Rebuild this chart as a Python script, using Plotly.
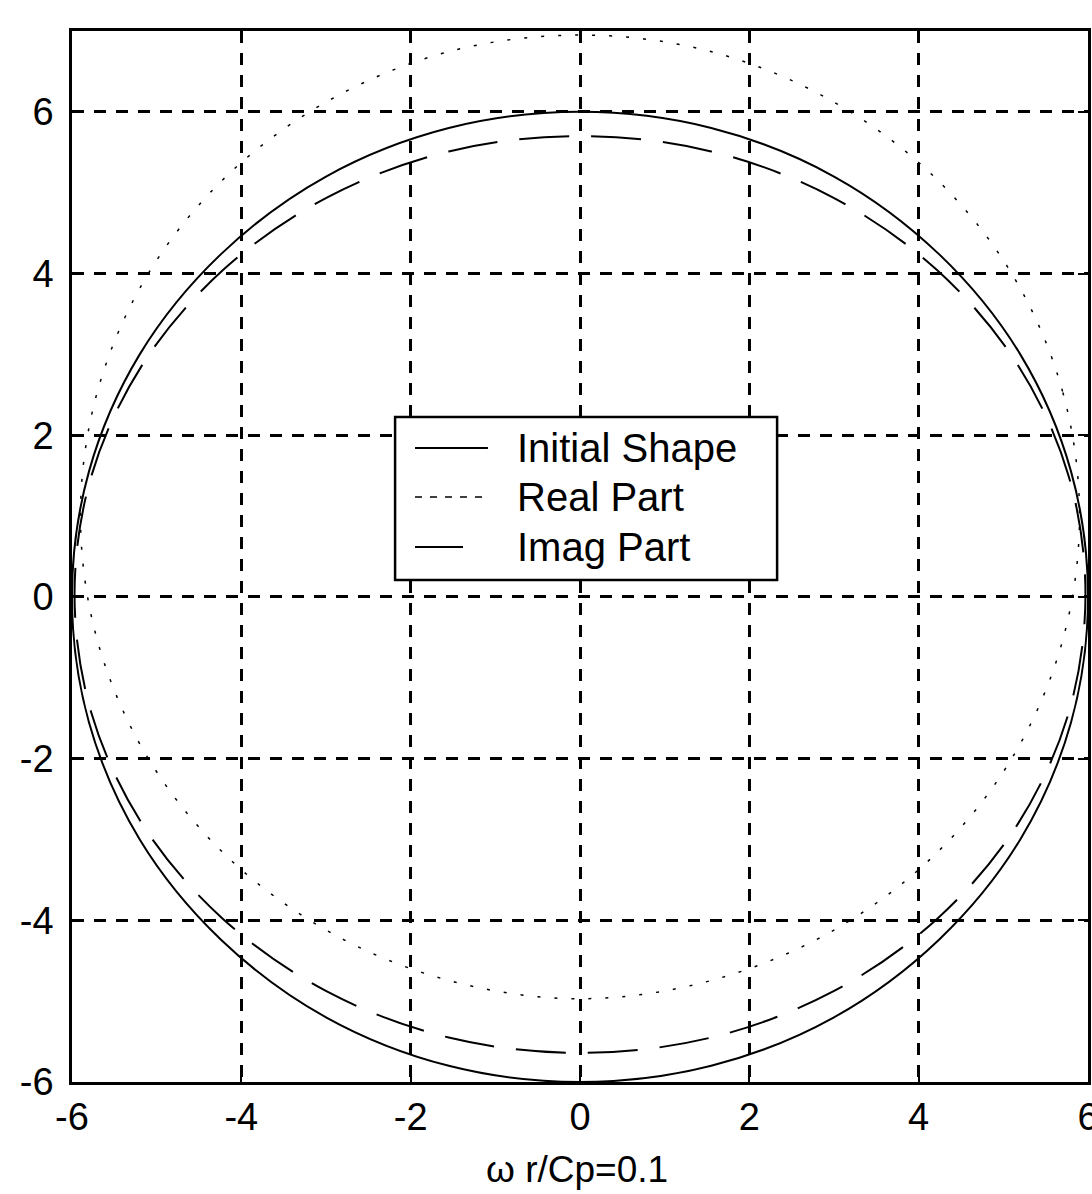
import plotly.graph_objects as go

# Initial shape (solid circle), sampled every 15 degrees, closed
init_x = [6.00, 5.80, 5.20, 4.24, 3.00, 1.55, 0.00, -1.55, -3.00, -4.24, -5.20, -5.80,
          -6.00, -5.80, -5.20, -4.24, -3.00, -1.55, 0.00, 1.55, 3.00, 4.24, 5.20, 5.80, 6.00]
init_y = [0.00, 1.55, 3.00, 4.24, 5.20, 5.80, 6.00, 5.80, 5.20, 4.24, 3.00, 1.55,
          0.00, -1.55, -3.00, -4.24, -5.20, -5.80, -6.00, -5.80, -5.20, -4.24, -3.00, -1.55, 0.00]

# Real part of the deformed shape (dotted)
real_x = [5.90, 5.70, 5.11, 4.17, 2.95, 1.53, 0.00, -1.53, -2.95, -4.17, -5.11, -5.70,
          -5.90, -5.70, -5.11, -4.17, -2.95, -1.53, 0.00, 1.53, 2.95, 4.17, 5.11, 5.70, 5.90]
real_y = [1.00, 2.54, 3.98, 5.21, 6.15, 6.75, 6.95, 6.75, 6.15, 5.21, 3.98, 2.54,
          1.00, -0.54, -1.98, -3.21, -4.15, -4.75, -4.97, -4.75, -4.15, -3.21, -1.98, -0.54, 1.00]

# Imaginary part of the deformed shape (dashed)
imag_x = [5.97, 5.77, 5.17, 4.22, 2.99, 1.55, 0.00, -1.55, -2.99, -4.22, -5.17, -5.77,
          -5.97, -5.77, -5.17, -4.22, -2.99, -1.55, 0.00, 1.55, 2.99, 4.22, 5.17, 5.77, 5.97]
imag_y = [0.03, 1.50, 2.87, 4.04, 4.94, 5.51, 5.70, 5.51, 4.94, 4.04, 2.87, 1.50,
          0.03, -1.44, -2.81, -3.98, -4.88, -5.45, -5.64, -5.45, -4.88, -3.98, -2.81, -1.44, 0.03]

x_ticks = [-6, -4, -2, 0, 2, 4, 6]
x_tick_text = ["-6", "-4", "-2", "0", "2", "4", "6"]
y_ticks = [-6, -4, -2, 0, 2, 4, 6]
y_tick_text = ["-6", "-4", "-2", "0", "2", "4", "6"]
x_label = "ω r/Cp=0.1"
legend_names = ["Initial Shape", "Real Part", "Imag Part"]

FONT = "Liberation Sans, Arial, sans-serif"

styles = [
    dict(color="black", width=2, dash="solid"),
    dict(color="black", width=1.5, dash="3px,14px"),
    dict(color="black", width=2, dash="50px,22px"),
]
# dash patterns for the short samples inside the key box
key_dashes = ["solid", "7px,8px", "48px,40px"]
series = [(init_x, init_y), (real_x, real_y), (imag_x, imag_y)]

fig = go.Figure()
for (xs, ys), name, st in zip(series, legend_names, styles):
    fig.add_trace(go.Scatter(x=xs, y=ys, mode="lines", name=name, showlegend=False,
                             line=dict(shape="spline", **st)))

axis_common = dict(
    showline=True, linecolor="black", linewidth=2.5, mirror="ticks",
    ticks="inside", ticklen=10, tickwidth=2, tickcolor="black",
    showgrid=True, gridcolor="black", gridwidth=2.5, griddash="12px,10px",
    zeroline=False, tickfont=dict(family=FONT, size=38, color="black"),
    ticklabeloverflow="allow", automargin=False,
)

fig.update_xaxes(range=[-6, 6], tickvals=x_ticks, ticktext=x_tick_text,
                 ticklabelstandoff=0, **axis_common)
fig.update_yaxes(range=[-6, 7], tickvals=y_ticks, ticktext=y_tick_text,
                 ticklabelstandoff=8, **axis_common)

fig.add_annotation(text=x_label, xref="paper", yref="paper", x=0.497, y=-0.0837,
                   xanchor="center", yanchor="middle", showarrow=False,
                   font=dict(family=FONT, size=37, color="black"))

# Boxed key placed in the middle of the plot area
box_x0, box_x1, box_y0, box_y1 = 0.318, 0.694, 0.4776, 0.6327
sample_x0, sample_x1, text_x = 0.3376, 0.4094, 0.436
row_y = [0.6032, 0.5566, 0.5090]
fig.add_shape(type="rect", xref="paper", yref="paper",
              x0=box_x0, x1=box_x1, y0=box_y0, y1=box_y1,
              line=dict(color="black", width=2.5), fillcolor="white", layer="above")
for name, st, kd, ry in zip(legend_names, styles, key_dashes, row_y):
    fig.add_shape(type="line", xref="paper", yref="paper",
                  x0=sample_x0, x1=sample_x1, y0=ry, y1=ry,
                  line=dict(color="black", width=st["width"], dash=kd),
                  layer="above")
    fig.add_annotation(text=name, xref="paper", yref="paper", x=text_x, y=ry,
                       xanchor="left", yanchor="middle", showarrow=False,
                       font=dict(family=FONT, size=40, color="black"))

fig.update_layout(
    width=1092, height=1194,
    margin=dict(l=72, r=4, t=31, b=112),
    plot_bgcolor="white", paper_bgcolor="white",
    showlegend=False,
)

fig.write_html("out.html")
